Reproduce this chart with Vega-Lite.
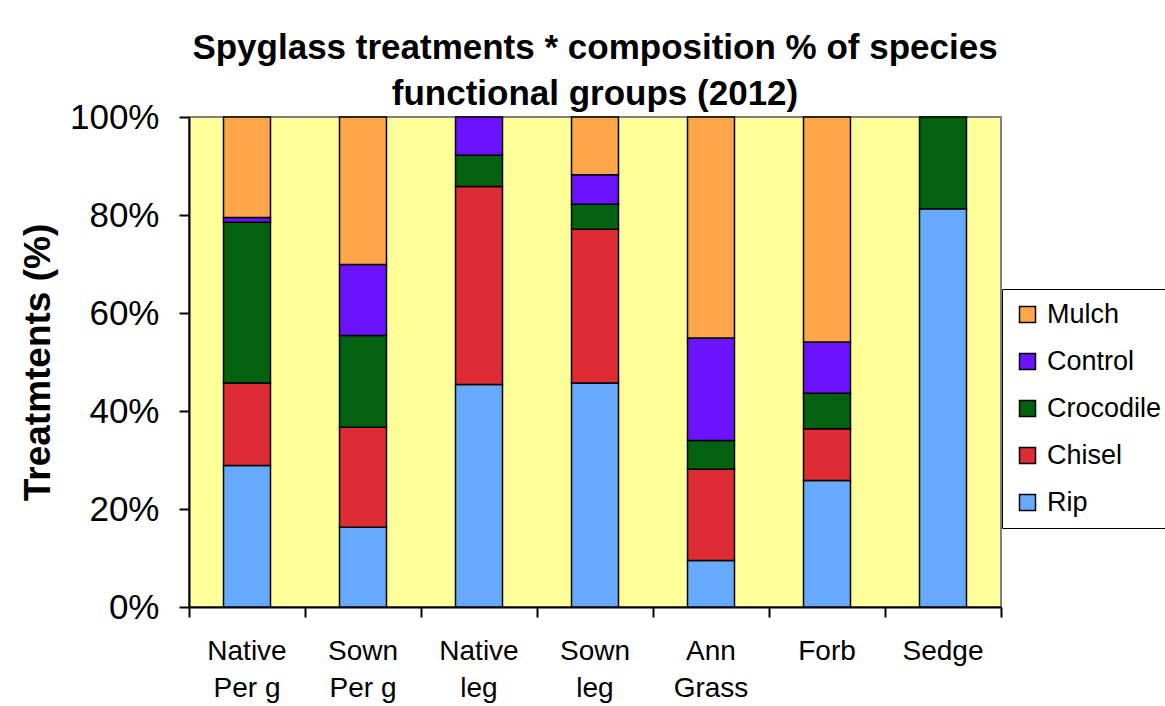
{
  "$schema": "https://vega.github.io/schema/vega-lite/v6.json",
  "autosize": "none",
  "padding": {"left": 189, "top": 117, "right": 164, "bottom": 99},
  "width": 812,
  "height": 490,
  "background": "white",
  "title": {
    "text": ["Spyglass treatments * composition % of species", "functional groups (2012)"],
    "font": "Liberation Sans",
    "fontSize": 35,
    "fontWeight": "bold",
    "color": "black",
    "lineHeight": 46,
    "anchor": "middle",
    "offset": -12
  },
  "data": {
    "values": [
      {"group": "Native|Per g", "treatment": "Rip", "ord": 1, "value": 28.9},
      {"group": "Native|Per g", "treatment": "Chisel", "ord": 2, "value": 16.8},
      {"group": "Native|Per g", "treatment": "Crocodile", "ord": 3, "value": 32.8},
      {"group": "Native|Per g", "treatment": "Control", "ord": 4, "value": 1.0},
      {"group": "Native|Per g", "treatment": "Mulch", "ord": 5, "value": 20.5},
      {"group": "Sown|Per g", "treatment": "Rip", "ord": 1, "value": 16.3},
      {"group": "Sown|Per g", "treatment": "Chisel", "ord": 2, "value": 20.4},
      {"group": "Sown|Per g", "treatment": "Crocodile", "ord": 3, "value": 18.7},
      {"group": "Sown|Per g", "treatment": "Control", "ord": 4, "value": 14.5},
      {"group": "Sown|Per g", "treatment": "Mulch", "ord": 5, "value": 30.1},
      {"group": "Native|leg", "treatment": "Rip", "ord": 1, "value": 45.4},
      {"group": "Native|leg", "treatment": "Chisel", "ord": 2, "value": 40.4},
      {"group": "Native|leg", "treatment": "Crocodile", "ord": 3, "value": 6.4},
      {"group": "Native|leg", "treatment": "Control", "ord": 4, "value": 7.8},
      {"group": "Sown|leg", "treatment": "Rip", "ord": 1, "value": 45.7},
      {"group": "Sown|leg", "treatment": "Chisel", "ord": 2, "value": 31.4},
      {"group": "Sown|leg", "treatment": "Crocodile", "ord": 3, "value": 5.1},
      {"group": "Sown|leg", "treatment": "Control", "ord": 4, "value": 6.0},
      {"group": "Sown|leg", "treatment": "Mulch", "ord": 5, "value": 11.8},
      {"group": "Ann|Grass", "treatment": "Rip", "ord": 1, "value": 9.5},
      {"group": "Ann|Grass", "treatment": "Chisel", "ord": 2, "value": 18.6},
      {"group": "Ann|Grass", "treatment": "Crocodile", "ord": 3, "value": 5.9},
      {"group": "Ann|Grass", "treatment": "Control", "ord": 4, "value": 20.9},
      {"group": "Ann|Grass", "treatment": "Mulch", "ord": 5, "value": 45.1},
      {"group": "Forb", "treatment": "Rip", "ord": 1, "value": 25.8},
      {"group": "Forb", "treatment": "Chisel", "ord": 2, "value": 10.6},
      {"group": "Forb", "treatment": "Crocodile", "ord": 3, "value": 7.2},
      {"group": "Forb", "treatment": "Control", "ord": 4, "value": 10.5},
      {"group": "Forb", "treatment": "Mulch", "ord": 5, "value": 45.9},
      {"group": "Sedge", "treatment": "Rip", "ord": 1, "value": 81.3},
      {"group": "Sedge", "treatment": "Crocodile", "ord": 3, "value": 18.7}
    ]
  },
  "mark": {"type": "bar", "width": {"band": 0.405}, "stroke": "black", "strokeWidth": 1.5},
  "encoding": {
    "x": {
      "field": "group",
      "type": "nominal",
      "sort": null,
      "scale": {"paddingInner": 0, "paddingOuter": 0},
      "axis": {
        "title": null,
        "labelAngle": 0,
        "labelExpr": "split(datum.label, '|')",
        "labelFont": "Liberation Sans",
        "labelFontSize": 28,
        "labelLineHeight": 37,
        "labelColor": "black",
        "labelPadding": 20,
        "labelBaseline": "top",
        "bandPosition": 1,
        "tickExtra": true,
        "tickColor": "black",
        "tickSize": 10,
        "tickWidth": 2,
        "domainColor": "black",
        "domainWidth": 2,
        "grid": false
      }
    },
    "y": {
      "field": "value",
      "type": "quantitative",
      "stack": "zero",
      "scale": {"domain": [0, 100], "nice": false},
      "axis": {
        "title": "Treatmtents (%)",
        "titleFont": "Liberation Sans",
        "titleFontSize": 37,
        "titleFontWeight": "bold",
        "titleColor": "black",
        "titlePadding": 12,
        "values": [0, 20, 40, 60, 80, 100],
        "labelExpr": "datum.value + '%'",
        "labelFont": "Liberation Sans",
        "labelFontSize": 35,
        "labelColor": "black",
        "labelPadding": 20,
        "tickColor": "black",
        "tickSize": 10,
        "tickWidth": 2,
        "domainColor": "black",
        "domainWidth": 2,
        "grid": false
      }
    },
    "color": {
      "field": "treatment",
      "type": "nominal",
      "scale": {
        "domain": ["Mulch", "Control", "Crocodile", "Chisel", "Rip"],
        "range": ["#FFA64B", "#6B12FF", "#02620F", "#DD2C33", "#66AAFF"]
      },
      "legend": {
        "title": null,
        "orient": "none",
        "legendX": 813,
        "legendY": 172,
        "fillColor": "white",
        "strokeColor": "black",
        "padding": 12,
        "rowPadding": 19,
        "symbolType": "square",
        "symbolSize": 256,
        "symbolStrokeColor": "black",
        "symbolStrokeWidth": 1.5,
        "symbolOpacity": 1,
        "labelFont": "Liberation Sans",
        "labelFontSize": 27,
        "labelColor": "black",
        "labelOffset": 6
      }
    },
    "order": {"field": "ord", "type": "quantitative", "sort": "ascending"}
  },
  "config": {
    "view": {"fill": "#FFFF99", "stroke": "#808080", "strokeWidth": 2}
  }
}
